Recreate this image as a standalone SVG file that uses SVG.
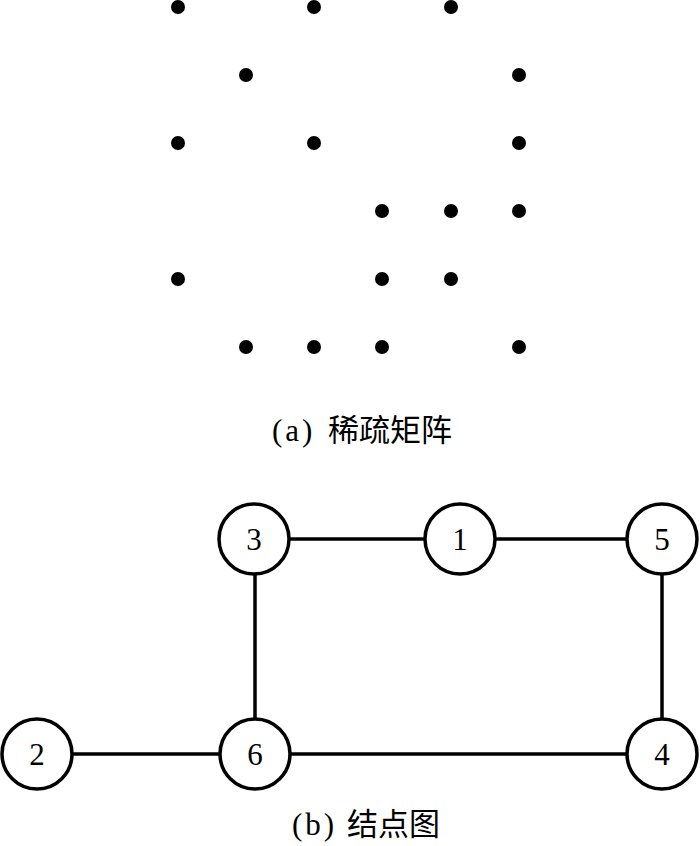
<svg xmlns="http://www.w3.org/2000/svg" width="700" height="846" viewBox="0 0 700 846">
<style>
.dot{fill:#000}
.node circle{fill:#fff;stroke:#000;stroke-width:3.5}
.node text{font-family:"Liberation Serif",serif;font-size:31px;text-anchor:middle;fill:#000}
.edges line{stroke:#000;stroke-width:3.5}
.cap{font-family:"Liberation Serif","Noto Sans CJK SC",serif;font-size:31px;fill:#000}
</style>
<rect width="700" height="846" fill="#fff"/>
<g id="matrix">
<circle class="dot" cx="178" cy="7" r="7"/><circle class="dot" cx="314" cy="7" r="7"/><circle class="dot" cx="451" cy="7" r="7"/>
<circle class="dot" cx="246" cy="75" r="7"/><circle class="dot" cx="519" cy="75" r="7"/>
<circle class="dot" cx="178" cy="143" r="7"/><circle class="dot" cx="314" cy="143" r="7"/><circle class="dot" cx="519" cy="143" r="7"/>
<circle class="dot" cx="382" cy="211" r="7"/><circle class="dot" cx="451" cy="211" r="7"/><circle class="dot" cx="519" cy="211" r="7"/>
<circle class="dot" cx="178" cy="279" r="7"/><circle class="dot" cx="382" cy="279" r="7"/><circle class="dot" cx="451" cy="279" r="7"/>
<circle class="dot" cx="246" cy="347" r="7"/><circle class="dot" cx="314" cy="347" r="7"/><circle class="dot" cx="382" cy="347" r="7"/><circle class="dot" cx="519" cy="347" r="7"/>
</g>
<text class="cap" x="272" y="441"><tspan letter-spacing="3">(a)</tspan><tspan x="328">稀疏矩阵</tspan></text>
<g id="edges" class="edges">
<line x1="254" y1="539" x2="460" y2="539"/>
<line x1="460" y1="539" x2="662" y2="539"/>
<line x1="255" y1="539" x2="255" y2="754"/>
<line x1="662" y1="539" x2="662" y2="754"/>
<line x1="37" y1="754" x2="255" y2="754"/>
<line x1="255" y1="754" x2="662" y2="754"/>
</g>
<g id="n3" class="node"><circle cx="254" cy="539" r="35"/><text x="254" y="550">3</text></g>
<g id="n1" class="node"><circle cx="460" cy="539" r="35"/><text x="460" y="550">1</text></g>
<g id="n5" class="node"><circle cx="662" cy="539" r="35"/><text x="662" y="550">5</text></g>
<g id="n2" class="node"><circle cx="37" cy="754" r="35"/><text x="37" y="765">2</text></g>
<g id="n6" class="node"><circle cx="255" cy="754" r="35"/><text x="255" y="765">6</text></g>
<g id="n4" class="node"><circle cx="662" cy="754" r="35"/><text x="662" y="765">4</text></g>
<text class="cap" x="292" y="835"><tspan letter-spacing="3">(b)</tspan><tspan x="347">结点图</tspan></text>
</svg>
